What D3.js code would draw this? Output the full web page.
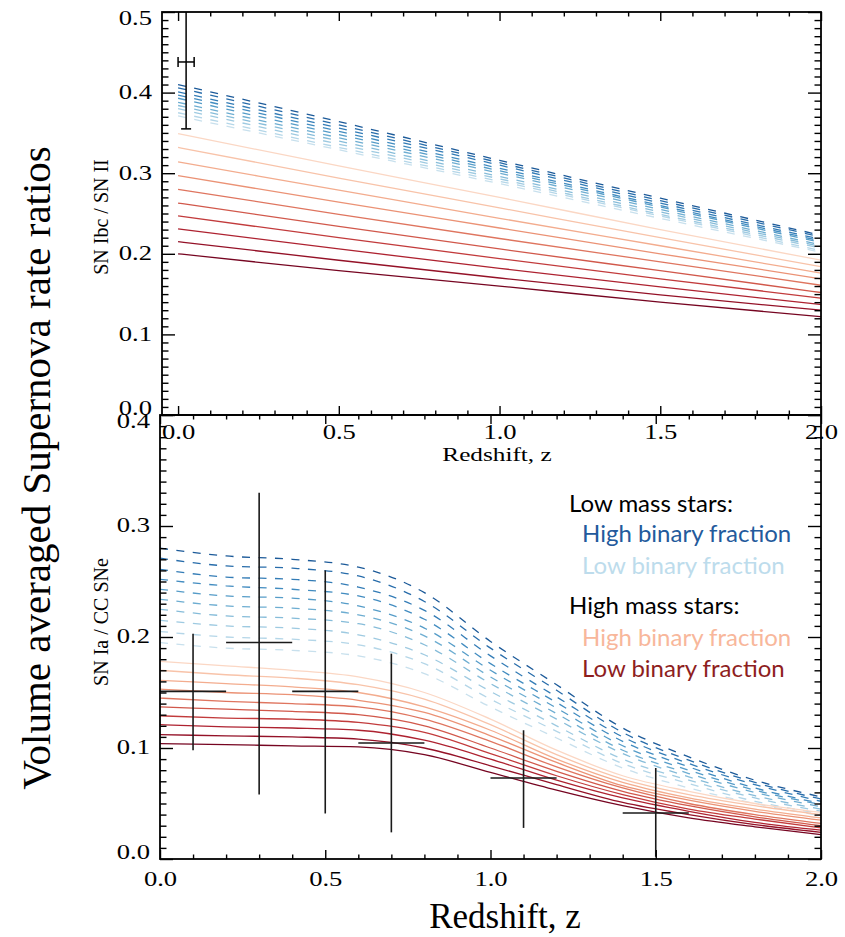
<!DOCTYPE html>
<html><head><meta charset="utf-8">
<script src="https://cdn.jsdelivr.net/npm/d3@7"></script>
<style>body{margin:0;background:#fff;} svg{display:block;}</style>
</head><body><svg id="c" width="845" height="937"></svg>
<script>
// ---------------- DATA ----------------
// Top panel: SN Ibc / SN II
const topZ = [0, 0.5, 1.0, 1.5, 2.0];
// High mass stars (solid, light = high binary fraction -> dark = low binary fraction)
const topHighMass = [
  [0.349, 0.309, 0.270, 0.230, 0.192],
  [0.332, 0.294, 0.257, 0.220, 0.184],
  [0.314, 0.279, 0.244, 0.210, 0.176],
  [0.297, 0.264, 0.232, 0.200, 0.169],
  [0.280, 0.249, 0.219, 0.190, 0.161],
  [0.263, 0.234, 0.206, 0.179, 0.152],
  [0.247, 0.220, 0.194, 0.169, 0.145],
  [0.231, 0.206, 0.182, 0.159, 0.137],
  [0.215, 0.192, 0.170, 0.149, 0.130],
  [0.200, 0.179, 0.160, 0.140, 0.122]
];
// Low mass stars (dashed, dark = high binary fraction -> light = low binary fraction)
const topLowMass = [
  [0.410, 0.364, 0.316, 0.269, 0.223],
  [0.406, 0.360, 0.313, 0.266, 0.221],
  [0.401, 0.356, 0.310, 0.263, 0.218],
  [0.397, 0.352, 0.306, 0.260, 0.216],
  [0.393, 0.348, 0.303, 0.258, 0.214],
  [0.388, 0.344, 0.300, 0.255, 0.211],
  [0.384, 0.340, 0.296, 0.252, 0.209],
  [0.380, 0.336, 0.293, 0.249, 0.207],
  [0.375, 0.332, 0.290, 0.247, 0.204],
  [0.371, 0.329, 0.287, 0.244, 0.202]
];
const topObsZ = [0.025], topObsZLo = [0.0], topObsZHi = [0.05];
const topObsV = [0.438], topObsVLo = [0.355], topObsVHi = [0.52];

// Bottom panel: SN Ia / CC SNe
const botZ = [0, 0.2, 0.4, 0.6, 0.8, 1.0, 1.2, 1.4, 1.6, 1.8, 2.0];
const botLowMass = [
  [0.280, 0.273, 0.270, 0.263, 0.240, 0.196, 0.157, 0.118, 0.092, 0.071, 0.056],
  [0.271, 0.264, 0.262, 0.255, 0.232, 0.190, 0.152, 0.114, 0.089, 0.069, 0.054],
  [0.261, 0.254, 0.252, 0.245, 0.224, 0.183, 0.146, 0.110, 0.086, 0.067, 0.052],
  [0.252, 0.246, 0.243, 0.237, 0.216, 0.176, 0.141, 0.106, 0.083, 0.064, 0.050],
  [0.243, 0.237, 0.235, 0.228, 0.208, 0.170, 0.136, 0.102, 0.080, 0.062, 0.049],
  [0.234, 0.228, 0.226, 0.220, 0.201, 0.164, 0.131, 0.098, 0.077, 0.060, 0.047],
  [0.225, 0.219, 0.217, 0.212, 0.193, 0.158, 0.126, 0.095, 0.074, 0.057, 0.045],
  [0.215, 0.210, 0.208, 0.202, 0.184, 0.151, 0.120, 0.090, 0.071, 0.055, 0.043],
  [0.205, 0.200, 0.198, 0.193, 0.176, 0.144, 0.115, 0.086, 0.068, 0.052, 0.041],
  [0.195, 0.190, 0.188, 0.183, 0.167, 0.137, 0.109, 0.082, 0.064, 0.050, 0.039]
];
const botHighMass = [
  [0.178, 0.174, 0.170, 0.164, 0.150, 0.126, 0.098, 0.075, 0.061, 0.050, 0.042],
  [0.170, 0.166, 0.163, 0.157, 0.144, 0.121, 0.094, 0.072, 0.058, 0.048, 0.040],
  [0.161, 0.158, 0.155, 0.150, 0.137, 0.116, 0.090, 0.069, 0.055, 0.045, 0.037],
  [0.153, 0.150, 0.148, 0.143, 0.132, 0.111, 0.087, 0.066, 0.053, 0.043, 0.035],
  [0.145, 0.142, 0.140, 0.137, 0.126, 0.106, 0.083, 0.064, 0.050, 0.040, 0.032],
  [0.137, 0.135, 0.133, 0.130, 0.120, 0.100, 0.079, 0.061, 0.048, 0.038, 0.030],
  [0.129, 0.127, 0.126, 0.123, 0.114, 0.095, 0.075, 0.058, 0.045, 0.036, 0.028],
  [0.121, 0.119, 0.118, 0.116, 0.107, 0.090, 0.071, 0.055, 0.043, 0.033, 0.026],
  [0.112, 0.111, 0.110, 0.108, 0.100, 0.084, 0.067, 0.051, 0.040, 0.031, 0.024],
  [0.104, 0.103, 0.102, 0.101, 0.094, 0.078, 0.062, 0.048, 0.037, 0.029, 0.022]
];
const botObsZ  = [0.1, 0.3, 0.5, 0.7, 1.1, 1.5];
const botObsZLo = [0.0, 0.2, 0.4, 0.6, 1.0, 1.4];
const botObsZHi = [0.2, 0.4, 0.6, 0.8, 1.2, 1.6];
const botObsV  = [0.151, 0.195, 0.151, 0.1045, 0.073, 0.0415];
const botObsVLo = [0.098, 0.058, 0.041, 0.024, 0.028, 0.002];
const botObsVHi = [0.203, 0.330, 0.260, 0.185, 0.116, 0.082];

const xMajor = [0, 0.5, 1.0, 1.5, 2.0];
const topYMajor = [0, 0.1, 0.2, 0.3, 0.4, 0.5];
const botYMajor = [0, 0.1, 0.2, 0.3, 0.4];
const legendHeads = ["Low mass stars:", "High mass stars:"];
const legendItems = ["High binary fraction", "Low binary fraction"];

// ---------------- LAYOUT ----------------
const svg = d3.select("#c");
const TOP = {l:162, r:821, t:12, b:415};
const BOT = {l:160, r:821, t:415, b:859};
const xT = d3.scaleLinear().domain([-0.05, 2.0]).range([TOP.l, TOP.r]);
const yT = d3.scaleLinear().domain([0, 0.5]).range([TOP.b, TOP.t]);
const xB = d3.scaleLinear().domain([0, 2.0]).range([BOT.l, BOT.r]);
const yB = d3.scaleLinear().domain([0, 0.4]).range([BOT.b, BOT.t]);

const SX = 1.33;           // horizontal stretch of IDL-like labels
const FONT = "'Liberation Serif', 'Times New Roman', serif";
const blueCol = i => d3.interpolateRdBu(0.92 - i * (0.31 / 9));
const redCol  = i => d3.interpolateRdBu(0.40 - i * (0.38 / 9));

const defs = svg.append("defs");
defs.append("clipPath").attr("id","clipT").append("rect")
  .attr("x",TOP.l).attr("y",TOP.t).attr("width",TOP.r-TOP.l).attr("height",TOP.b-TOP.t);
defs.append("clipPath").attr("id","clipB").append("rect")
  .attr("x",BOT.l).attr("y",BOT.t).attr("width",BOT.r-BOT.l).attr("height",BOT.b-BOT.t);

function drawLines(g, zs, series, x, y, colorFn, dashed) {
  const line = d3.line().x((d,i)=>x(zs[i])).y(d=>y(d)).curve(d3.curveMonotoneX);
  series.forEach((s,i) => {
    g.append("path").attr("d", line(s)).attr("fill","none")
      .attr("stroke", colorFn(i)).attr("stroke-width", 1.3)
      .attr("stroke-dasharray", dashed ? "8,8.5" : null);
  });
}

// ---- bottom panel curves
const gB = svg.append("g").attr("clip-path","url(#clipB)");
drawLines(gB, botZ, botLowMass, xB, yB, blueCol, true);
drawLines(gB, botZ, botHighMass, xB, yB, redCol, false);
// bottom data
botObsZ.forEach((z,i) => {
  gB.append("line").attr("x1",xB(botObsZLo[i])).attr("x2",xB(botObsZHi[i]))
    .attr("y1",yB(botObsV[i])).attr("y2",yB(botObsV[i]))
    .attr("stroke","#1a1a1a").attr("stroke-width",1.6);
  gB.append("line").attr("x1",xB(z)).attr("x2",xB(z))
    .attr("y1",yB(botObsVLo[i])).attr("y2",yB(botObsVHi[i]))
    .attr("stroke","#1a1a1a").attr("stroke-width",1.6);
});

// ---- top panel curves
const gT = svg.append("g").attr("clip-path","url(#clipT)");
drawLines(gT, topZ, topLowMass, xT, yT, blueCol, true);
drawLines(gT, topZ, topHighMass, xT, yT, redCol, false);
topObsZ.forEach((z,i) => {
  const cx = xT(z), cy = yT(topObsV[i]);
  const xl = xT(topObsZLo[i]), xh = xT(topObsZHi[i]);
  const yl = yT(topObsVLo[i]), yh = yT(topObsVHi[i]);
  const st = g => g.attr("stroke","#000").attr("stroke-width",1.5);
  gT.append("line").attr("x1",xl).attr("x2",xh).attr("y1",cy).attr("y2",cy).call(st);
  gT.append("line").attr("x1",xl).attr("x2",xl).attr("y1",cy-5).attr("y2",cy+5).call(st);
  gT.append("line").attr("x1",xh).attr("x2",xh).attr("y1",cy-5).attr("y2",cy+5).call(st);
  gT.append("line").attr("x1",cx).attr("x2",cx).attr("y1",yl).attr("y2",yh).call(st);
  gT.append("line").attr("x1",cx-5).attr("x2",cx+5).attr("y1",yl).attr("y2",yl).call(st);
});

// ---------------- AXES ----------------
function clean(g){ g.select(".domain").remove(); g.selectAll("line").attr("stroke","#000").attr("stroke-width",1.4); }
const minorX = d3.range(0, 21).map(k => k/10).filter(v => Math.abs(v*2 - Math.round(v*2)) > 1e-6);

function xAxes(x, yPos, dir, withLabels, pad) {
  const mk = dir === "up" ? d3.axisBottom : d3.axisTop;
  const gMaj = svg.append("g").attr("transform",`translate(0,${yPos})`)
    .call(mk(x).tickValues(xMajor).tickSizeInner(-9).tickSizeOuter(0).tickPadding(pad || 12)
      .tickFormat(withLabels ? d3.format(".1f") : () => ""));
  clean(gMaj);
  gMaj.selectAll("text").attr("font-family", FONT).attr("font-size", 20).attr("fill","#000")
    .attr("transform", `scale(${SX},1)`);
  const gMin = svg.append("g").attr("transform",`translate(0,${yPos})`)
    .call(mk(x).tickValues(minorX).tickSizeInner(-4.5).tickSizeOuter(0).tickFormat(() => ""));
  clean(gMin);
  return gMaj;
}
function yAxes(y, xL, xR, majors, maxV, labelShift) {
  const gMaj = svg.append("g").attr("transform",`translate(${xL},0)`)
    .call(d3.axisLeft(y).tickValues(majors).tickSizeInner(-13).tickSizeOuter(0).tickPadding(10)
      .tickFormat(d3.format(".1f")));
  clean(gMaj);
  gMaj.selectAll("text").attr("font-family", FONT).attr("font-size", 20).attr("fill","#000")
    .attr("x", -10 / SX).attr("transform", `scale(${SX},1)`)
    .attr("dy", d => labelShift(d));
  const minors = d3.range(0, Math.round(maxV*100)+1).map(k => k/100).filter(v => Math.abs(v*10 - Math.round(v*10)) > 1e-6);
  const gMin = svg.append("g").attr("transform",`translate(${xL},0)`)
    .call(d3.axisLeft(y).tickValues(minors).tickSizeInner(-6.5).tickSizeOuter(0).tickFormat(() => ""));
  clean(gMin);
  const rMaj = svg.append("g").attr("transform",`translate(${xR},0)`)
    .call(d3.axisRight(y).tickValues(majors).tickSizeInner(-13).tickSizeOuter(0).tickFormat(() => ""));
  clean(rMaj);
  const rMin = svg.append("g").attr("transform",`translate(${xR},0)`)
    .call(d3.axisRight(y).tickValues(minors).tickSizeInner(-6.5).tickSizeOuter(0).tickFormat(() => ""));
  clean(rMin);
}

// bottom panel axes
xAxes(xB, BOT.b, "up", true, 13);
xAxes(xB, BOT.t, "down", false);
yAxes(yB, BOT.l, BOT.r, botYMajor, 0.4, d => d === 0 ? "-0.05em" : (d === 0.4 ? "0.62em" : "0.25em"));
// top panel axes
xAxes(xT, TOP.b, "up", true, 10);
xAxes(xT, TOP.t, "down", false);
yAxes(yT, TOP.l, TOP.r, topYMajor, 0.5, d => d === 0 ? "-0.03em" : (d === 0.5 ? "0.6em" : "0.3em"));

// frames
[TOP, BOT].forEach(P => svg.append("rect").attr("x",P.l).attr("y",P.t)
  .attr("width",P.r-P.l).attr("height",P.b-P.t).attr("fill","none")
  .attr("stroke","#000").attr("stroke-width",1.8));

// ---------------- TEXT ----------------
svg.append("text").attr("font-family",FONT).attr("font-size",19)
  .attr("text-anchor","middle").attr("transform",`translate(497,461) scale(${SX},1)`)
  .text("Redshift, z");
svg.append("text").attr("font-family",FONT).attr("font-size",35)
  .attr("text-anchor","middle").attr("x",505).attr("y",928)
  .text("Redshift, z");
svg.append("text").attr("font-family",FONT).attr("font-size",41)
  .attr("text-anchor","middle").attr("transform","translate(50,468) rotate(-90)")
  .text("Volume averaged Supernova rate ratios");
svg.append("text").attr("font-family",FONT).attr("font-size",20)
  .attr("text-anchor","middle").attr("transform","translate(108,217) rotate(-90)")
  .text("SN Ibc / SN II");
svg.append("text").attr("font-family",FONT).attr("font-size",20)
  .attr("text-anchor","middle").attr("transform","translate(108,622) rotate(-90)")
  .text("SN Ia / CC SNe");

// legend
const LF = "Lato, 'Open Sans', sans-serif";
const legend = [
  {t: legendHeads[0], x:569, y:503, c:"#000"},
  {t: legendItems[0], x:582, y:533, c:"#235a9c"},
  {t: legendItems[1], x:582, y:565, c:"#bddcec"},
  {t: legendHeads[1], x:569, y:605, c:"#000"},
  {t: legendItems[0], x:582, y:637, c:"#f8b79b"},
  {t: legendItems[1], x:582, y:668, c:"#8e1e1e"}
];
svg.append("g").selectAll("text").data(legend).join("text")
  .attr("font-family",LF).attr("font-size",24)
  .attr("x",d=>d.x).attr("y",d=>d.y).attr("dy","0.36em")
  .attr("fill",d=>d.c).text(d=>d.t);
</script></body></html>
